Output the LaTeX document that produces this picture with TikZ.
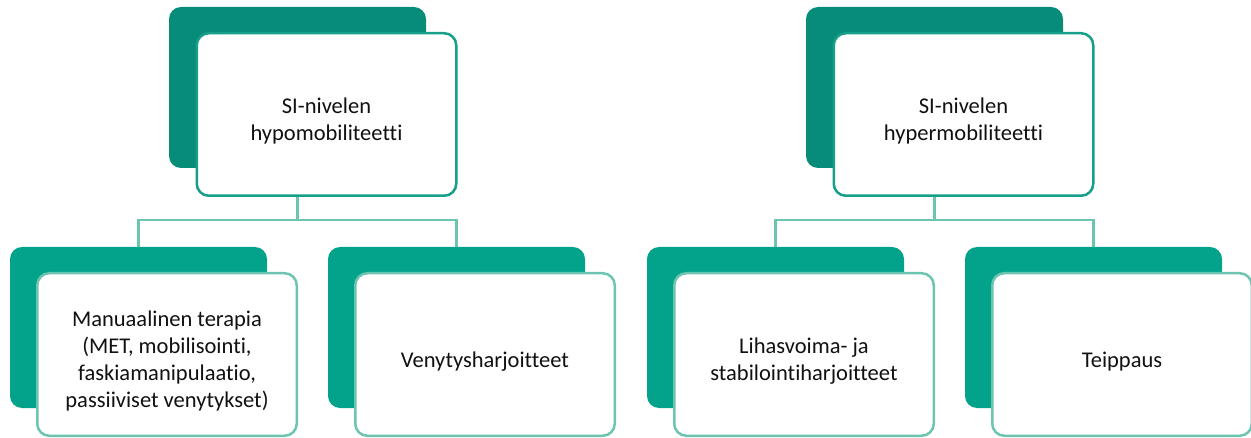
\documentclass[tikz,border=0pt]{standalone}
\usepackage{fontspec}
\setmainfont{Carlito}[Ligatures={NoCommon}]
\usetikzlibrary{backgrounds}
\definecolor{backtopc}{HTML}{068C78}
\definecolor{backbotc}{HTML}{03A38B}
\definecolor{fronttopc}{HTML}{16A08A}
\definecolor{frontbotc}{HTML}{6DC5B1}
\definecolor{connc}{HTML}{6DC5B1}
\definecolor{txtc}{HTML}{111111}
\begin{document}
\begin{tikzpicture}[x=1pt,y=-1pt,
  backbox/.style={rectangle,rounded corners=12pt,minimum width=257pt,minimum height=161pt,inner sep=0pt},
  backtop/.style={backbox,fill=backtopc},
  backbot/.style={backbox,fill=backbotc},
  frontbox/.style={rectangle,rounded corners=12pt,fill=white,line width=2.5pt,minimum width=259.5pt,minimum height=162.5pt,inner sep=0pt},
  fronttop/.style={frontbox,draw=fronttopc},
  frontbot/.style={frontbox,draw=frontbotc},
  boxtext/.style={label={[yshift=-7pt,align=center,text=txtc,font=\fontsize{22.5}{27}\selectfont]center:#1}},
  conn/.style={draw=connc,line width=2.5pt}]
\useasboundingbox (0,0) rectangle (1251,438);
% left group
\node[backtop] (Ltopb) at (297.5,87.5) {};
\node[fronttop,boxtext={SI-nivelen\\hypomobiliteetti}] (Ltop) at (326.5,114.5) {};
\node[backbot] (L1b) at (138.5,327.5) {};
\node[frontbot,boxtext={Manuaalinen terapia\\(MET, mobilisointi,\\faskiamanipulaatio,\\passiiviset venytykset)}] (L1) at (167,354.5) {};
\node[backbot] (L2b) at (456.5,327.5) {};
\node[frontbot,boxtext={Venytysharjoitteet}] (L2) at (485,354.5) {};
% right group
\node[backtop] (Rtopb) at (934.5,87.5) {};
\node[fronttop,boxtext={SI-nivelen\\hypermobiliteetti}] (Rtop) at (963.5,114.5) {};
\node[backbot] (R1b) at (775.5,327.5) {};
\node[frontbot,boxtext={Lihasvoima- ja\\stabilointiharjoitteet}] (R1) at (804,354.5) {};
\node[backbot] (R2b) at (1093.5,327.5) {};
\node[frontbot,boxtext={Teippaus}] (R2) at (1122,354.5) {};
\coordinate (jL) at (297.5,220);
\coordinate (jR) at (934.5,220);
\begin{pgfonlayer}{background}
\draw[conn] (Ltopb.center) -- (jL);
\draw[conn] (L1b.center) |- (jL) -| (L2b.center);
\draw[conn] (Rtopb.center) -- (jR);
\draw[conn] (R1b.center) |- (jR) -| (R2b.center);
\end{pgfonlayer}
\end{tikzpicture}
\end{document}
